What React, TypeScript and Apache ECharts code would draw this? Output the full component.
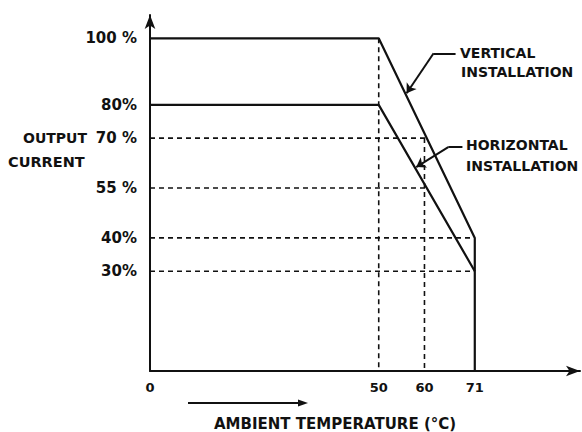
import React, { useEffect, useRef } from "react";
import * as echarts from "echarts";

// Derating curves (ambient temperature °C -> output current %)
const verticalTemp = [0, 50, 71, 71];
const verticalCurrent = [100, 100, 40, 0];
const horizontalTemp = [0, 50, 71];
const horizontalCurrent = [80, 80, 30];

// Dashed guide lines: [x1, y1, x2, y2]
const guideLines: number[][] = [
  [0, 70, 60.5, 70],
  [0, 55, 60.5, 55],
  [0, 40, 71, 40],
  [0, 30, 71, 30],
  [50, 100, 50, 0],
  [60, 70, 60, 0],
];

const yTickValues = [30, 40, 55, 70, 80, 100];
const yTickLabels = ["30%", "40%", "55 %", "70 %", "80%", "100 %"];
const xTickValues = [0, 50, 60, 71];
const xTickLabels = ["0", "50", "60", "71"];

// Annotation leaders in data coords
const verticalLeader = [
  [66.8, 95.5],
  [62.0, 95.5],
  [56.1, 83.5],
];
const horizontalLeader = [
  [68.3, 67.3],
  [65.2, 67.3],
  [58.2, 61.3],
];

const FONT = "DejaVu Sans";

export default function App() {
  const ref = useRef<HTMLDivElement>(null);
  useEffect(() => {
    document.body.style.margin = "0";
    const chart = echarts.init(ref.current!, null, { renderer: "svg" });
    const black = "#111";
    const textStyle = { fontFamily: FONT, fontWeight: "bold" as const, fontSize: 15, color: black };

    const leaderMark = (pts: number[][]) => ({
      silent: true,
      symbol: ["none", "none"],
      label: { show: false },
      lineStyle: { color: black, width: 2, type: "solid" as const },
      data: [
        [{ coord: pts[0] }, { coord: pts[1] }],
        [
          { coord: pts[1], symbol: "none" },
          { coord: pts[2], symbol: "arrow", symbolSize: 9 },
        ],
      ],
    });

    const series: any[] = [
      {
        type: "line",
        name: "vertical",
        data: verticalTemp.map((t, i) => [t, verticalCurrent[i]]),
        symbol: "none",
        lineStyle: { color: black, width: 2.2 },
        markLine: leaderMark(verticalLeader),
      },
      {
        type: "line",
        name: "horizontal",
        data: horizontalTemp.map((t, i) => [t, horizontalCurrent[i]]),
        symbol: "none",
        lineStyle: { color: black, width: 2.2 },
        markLine: leaderMark(horizontalLeader),
      },
      ...guideLines.map((g) => ({
        type: "line",
        data: [
          [g[0], g[1]],
          [g[2], g[3]],
        ],
        symbol: "none",
        lineStyle: { color: black, width: 1.6, type: [5, 4] },
        z: 1,
      })),
    ];

    const font = `bold 15px ${FONT}`;
    const noteFont = `bold 14px ${FONT}`;
    chart.setOption({
      animation: false,
      backgroundColor: "#fff",
      grid: { left: 150, right: 2, top: 15, bottom: 61, containLabel: false },
      xAxis: {
        type: "value",
        min: 0,
        max: 94,
        splitLine: { show: false },
        axisTick: { show: false },
        axisLine: {
          show: true,
          lineStyle: { color: black, width: 2 },
          symbol: ["none", "arrow"],
          symbolSize: [8, 14],
        },
        axisLabel: {
          customValues: xTickValues,
          formatter: (v: number) => xTickLabels[xTickValues.indexOf(v)] ?? "",
          margin: 10,
          ...textStyle,
          fontSize: 13,
        },
      },
      yAxis: {
        type: "value",
        min: 0,
        max: 107,
        splitLine: { show: false },
        axisTick: { show: false },
        axisLine: {
          show: true,
          lineStyle: { color: black, width: 2 },
          symbol: ["none", "arrow"],
          symbolSize: [8, 14],
        },
        axisLabel: {
          customValues: yTickValues,
          formatter: (v: number) => yTickLabels[yTickValues.indexOf(v)] ?? "",
          margin: 13,
          ...textStyle,
        },
      },
      graphic: [
        { type: "text", left: 23, top: 131, style: { text: "OUTPUT", font: `bold 14px ${FONT}`, fill: black } },
        { type: "text", left: 8, top: 154, style: { text: "CURRENT", font: `bold 14.5px ${FONT}`, fill: black } },
        { type: "text", left: 460, top: 46, style: { text: "VERTICAL", font: noteFont, fill: black } },
        { type: "text", left: 461, top: 65, style: { text: "INSTALLATION", font: noteFont, fill: black } },
        { type: "text", left: 466, top: 138, style: { text: "HORIZONTAL", font: noteFont, fill: black } },
        { type: "text", left: 466, top: 159, style: { text: "INSTALLATION", font: noteFont, fill: black } },
        {
          type: "line",
          shape: { x1: 188, y1: 403, x2: 300, y2: 403 },
          style: { stroke: black, lineWidth: 2 },
        },
        {
          type: "polygon",
          shape: { points: [[298, 399.5], [308, 403], [298, 406.5]] },
          style: { fill: black },
        },
        {
          type: "text",
          left: 214,
          top: 416,
          style: { text: "AMBIENT TEMPERATURE (°C)", font, fill: black },
        },
      ],
      series,
    });
    return () => chart.dispose();
  }, []);
  return <div ref={ref} style={{ width: 582, height: 432 }} />;
}
